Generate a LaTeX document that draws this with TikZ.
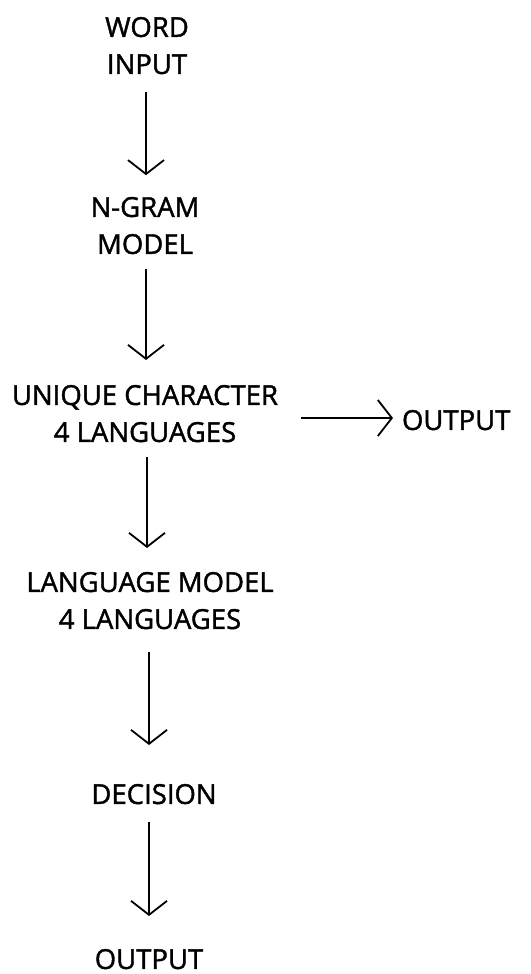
\documentclass[tikz,border=0pt]{standalone}
\usepackage{fontspec}
\newfontfamily\lblfont[FakeBold=1.5]{Open Sans}
\usetikzlibrary{arrows.meta}
\tikzset{
  label/.style={inner sep=0pt, outer sep=0pt, anchor=north, align=center,
    font=\fontsize{27.5}{37}\lblfont},
  flow/.style={line width=1.8pt, -{Straight Barb[length=14pt,width=36pt,line width=1.8pt]}}
}
\begin{document}
\begin{tikzpicture}[x=1pt,y=-1pt]
  \useasboundingbox (0,0) rectangle (530,974);
  % processing stages, top to bottom
  \node[label] (word) at (147,17) {WORD\\INPUT};
  \node[label] (ngram) at (145,197) {N-GRAM\\MODEL};
  \node[label] (uniq) at (145,385) {UNIQUE CHARACTER\\4 LANGUAGES};
  \node[label, anchor=north west] (out1) at (402,410) {OUTPUT};
  \node[label] (lang) at (150,572) {LANGUAGE MODEL\\4 LANGUAGES};
  \node[label] (dec) at (154,784) {DECISION};
  \node[label] (out2) at (149,949) {OUTPUT};
  % connectors
  \draw[flow] ([xshift=-1pt,yshift=-18pt]word.south) -- ([xshift=-1pt,yshift=-101pt]word.south);
  \draw[flow] ([xshift=1pt,yshift=-15pt]ngram.south) -- ([xshift=1pt,yshift=25pt]uniq.north);
  \draw[flow] ([xshift=2pt,yshift=-15pt]uniq.south) -- ([xshift=-3pt,yshift=24pt]lang.north);
  \draw[flow] ([xshift=-1pt,yshift=-23pt]lang.south) -- ([xshift=-5pt,yshift=39pt]dec.north);
  \draw[flow] ([xshift=-5pt,yshift=-18pt]dec.south) -- ([yshift=33pt]out2.north);
  \draw[flow] ([xshift=-101pt]out1.west |- 0,418) -- ([xshift=-9pt]out1.west |- 0,418);
\end{tikzpicture}
\end{document}
